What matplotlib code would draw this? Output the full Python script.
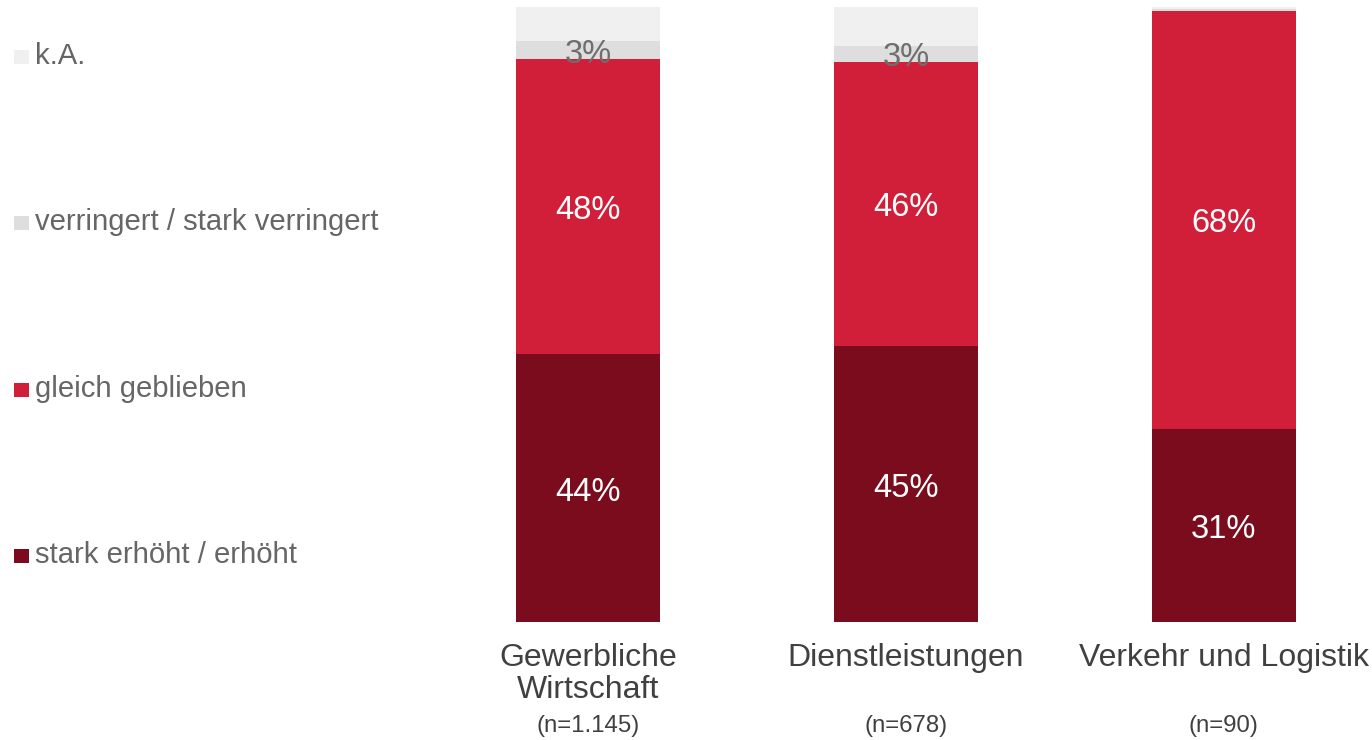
import numpy as np
import matplotlib.pyplot as plt
import matplotlib.patches as patches
from matplotlib.transforms import blended_transform_factory

# --- data ---
categories = ["Gewerbliche\nWirtschaft", "Dienstleistungen", "Verkehr und Logistik"]
sample_sizes = ["(n=1.145)", "(n=678)", "(n=90)"]
series_names = ["stark erhöht / erhöht", "gleich geblieben",
                "verringert / stark verringert", "k.A."]
erhoeht = [43.6, 44.9, 31.4]
gleich = [48.0, 46.2, 68.0]
verringert = [2.8, 2.6, 0.3]
keine_angabe = [5.6, 6.3, 0.3]

COLORS = ["#7A0C1D", "#D11F3A", "#DEDEDE", "#F0F0F0"]
LABEL_COLORS = ["white", "white", "#6E6E6E", None]
MIN_LABEL = 2.0

W, H, DPI = 1372, 740, 100
plt.rcParams['font.family'] = ['Liberation Sans', 'DejaVu Sans']

fig = plt.figure(figsize=(W / DPI, H / DPI), dpi=DPI, facecolor='white')
ax = fig.add_axes([429 / W, (H - 622) / H, 938 / W, 615 / H])

x = np.arange(len(categories))
bar_w = 0.453
series = [erhoeht, gleich, verringert, keine_angabe]
bottom = np.zeros(len(categories))
for vals, color, lcol in zip(series, COLORS, LABEL_COLORS):
    vals = np.array(vals)
    ax.bar(x, vals, bar_w, bottom=bottom, color=color, linewidth=0)
    if lcol is not None:
        for xi, b, v in zip(x, bottom, vals):
            if v >= MIN_LABEL:
                ax.annotate(f"{v:.0f}%", xy=(xi, b + v / 2), xytext=(0, -3),
                            textcoords='offset points', ha='center', va='center',
                            color=lcol, fontsize=23.5)
    bottom += vals

ax.set_xlim(-0.5, 2.45)
ax.set_ylim(0, 100)
ax.set_yticks([])
ax.set_xticks(x)
ax.set_xticklabels(categories, fontsize=23, color='#404040', linespacing=1.1)
ax.tick_params(axis='x', length=0, pad=15)
for s in ax.spines.values():
    s.set_visible(False)

# sample sizes below the category names
trans = blended_transform_factory(ax.transData, ax.transAxes)
for xi, n in zip(x, sample_sizes):
    ax.annotate(n, xy=(xi, 0), xycoords=trans, xytext=(0, -75), textcoords='offset points',
                ha='center', va='center', fontsize=17.3, color='#404040')

# legend on the left, top entry = top segment
leg_baselines = [64, 230, 397, 563]
for name, color, yb in zip(series_names[::-1], COLORS[::-1], leg_baselines):
    fig.patches.append(patches.Rectangle((14 / W, (H - yb) / H), 15 / W, 14 / H,
                                         transform=fig.transFigure, color=color, linewidth=0))
    fig.text(35 / W, (H - yb) / H, name, ha='left', va='baseline',
             fontsize=21.1, color='#666666')

fig.savefig("out.png", dpi=DPI, facecolor='white')
